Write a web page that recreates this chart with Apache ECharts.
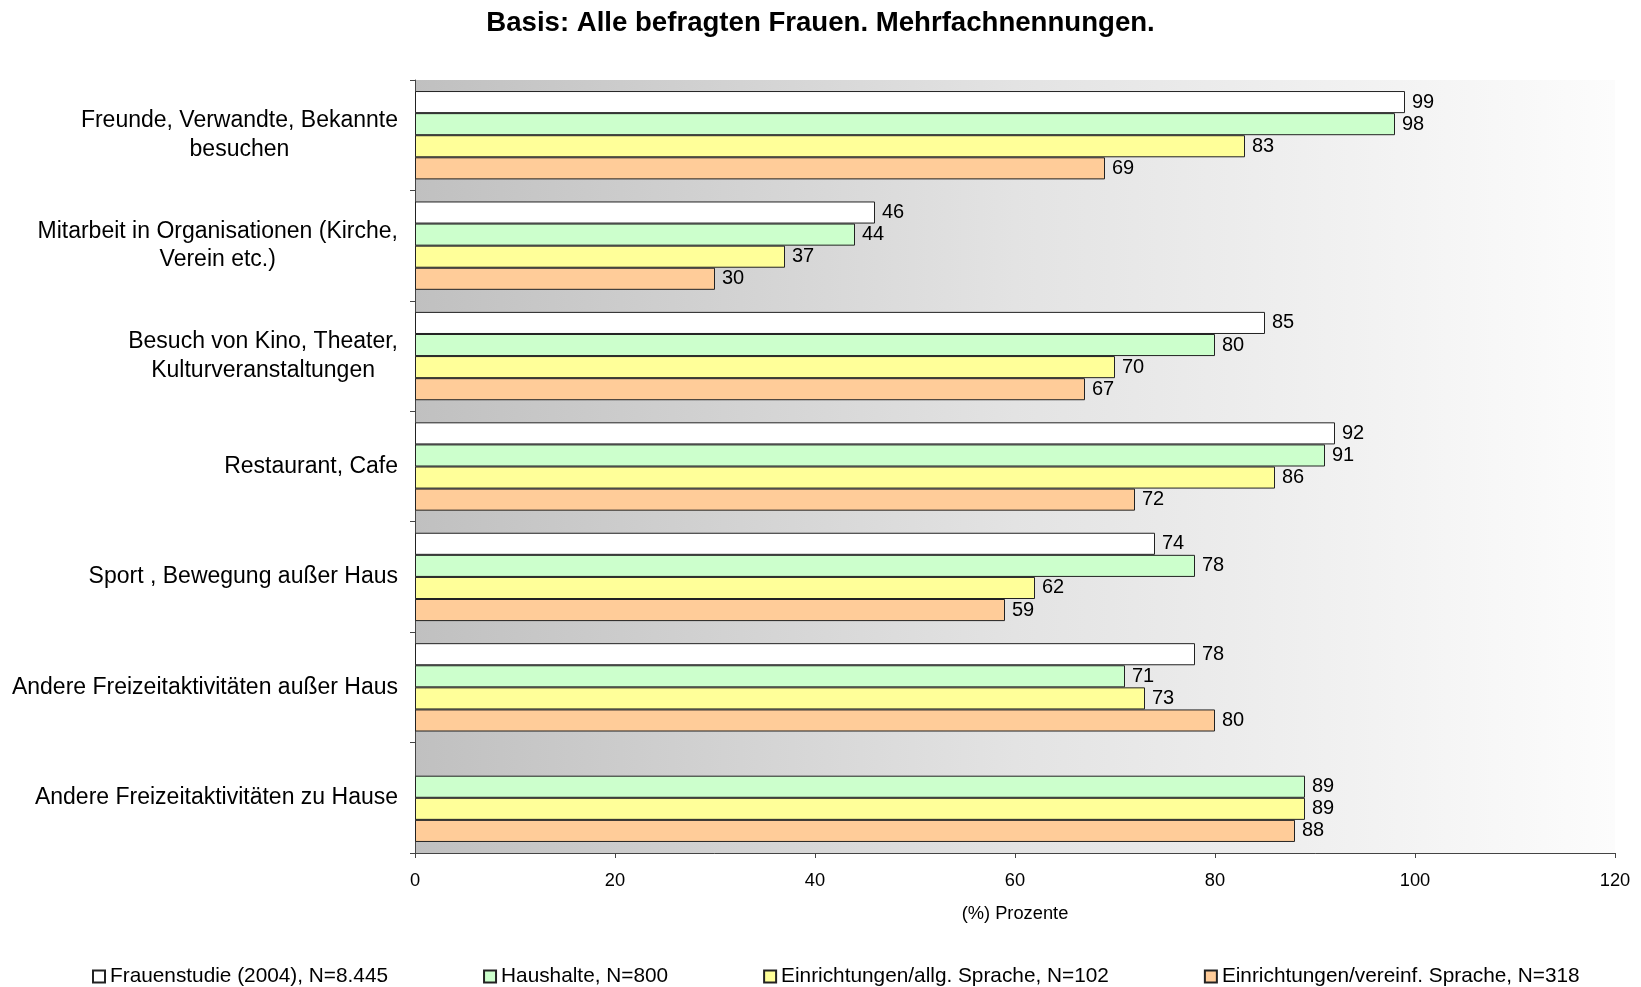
<!DOCTYPE html>
<html>
<head>
<meta charset="utf-8">
<script src="https://cdn.jsdelivr.net/npm/echarts@6/dist/echarts.min.js"></script>
<style>
  html, body { margin: 0; padding: 0; background: #fff; }
  #chart { width: 1641px; height: 987px; }
</style>
</head>
<body>
<div id="chart"></div>
<script>
const categories = [
  'Freunde, Verwandte, Bekannte\nbesuchen',
  'Mitarbeit in Organisationen (Kirche,\nVerein etc.)',
  'Besuch von Kino, Theater,\nKulturveranstaltungen',
  'Restaurant, Cafe',
  'Sport , Bewegung außer Haus',
  'Andere Freizeitaktivitäten außer Haus',
  'Andere Freizeitaktivitäten zu Hause'
];
const seriesNames = [
  'Frauenstudie (2004), N=8.445',
  'Haushalte, N=800',
  'Einrichtungen/allg. Sprache, N=102',
  'Einrichtungen/vereinf. Sprache, N=318'
];
const frauenstudie = [99, 46, 85, 92, 74, 78, null];
const haushalte = [98, 44, 80, 91, 78, 71, 89];
const allgSprache = [83, 37, 70, 86, 62, 73, 89];
const vereinfSprache = [69, 30, 67, 72, 59, 80, 88];
const xTicks = { min: 0, max: 120, interval: 20 };

const colors = ['#ffffff', '#ccffcc', '#ffff99', '#ffcc99'];
const values = [frauenstudie, haushalte, allgSprache, vereinfSprache];
const font = "'Liberation Sans', Arial, sans-serif";

const chart = echarts.init(document.getElementById('chart'));

const series = seriesNames.map((name, i) => ({
  name: name,
  type: 'bar',
  data: values[i],
  barGap: '0%',
  barCategoryGap: '20%',
  itemStyle: { color: colors[i], borderColor: '#222', borderWidth: 1 },
  label: {
    show: true,
    position: 'right',
    distance: 7,
    color: '#000',
    fontSize: 20,
    fontFamily: font
  }
}));

chart.setOption({
  animation: false,
  backgroundColor: '#fff',
  title: {
    text: 'Basis: Alle befragten Frauen. Mehrfachnennungen.',
    left: 'center',
    top: 4,
    textStyle: { fontFamily: font, fontSize: 27.6, fontWeight: 'bold', color: '#000' }
  },
  legend: {
    data: seriesNames,
    left: 87,
    top: 961,
    icon: 'rect',
    itemWidth: 12,
    itemHeight: 12,
    itemGap: 95,
    textStyle: { fontFamily: font, fontSize: 20.8, color: '#000' }
  },
  grid: {
    left: 415,
    right: 26,
    top: 80,
    bottom: 134,
    show: true,
    borderWidth: 0,
    backgroundColor: new echarts.graphic.LinearGradient(0, 0, 1, 0, [
      { offset: 0, color: '#c0c0c0' },
      { offset: 0.5, color: '#e3e3e3' },
      { offset: 1, color: '#fcfcfc' }
    ])
  },
  xAxis: {
    type: 'value',
    min: xTicks.min,
    max: xTicks.max,
    interval: xTicks.interval,
    name: '(%) Prozente',
    nameLocation: 'middle',
    nameGap: 52,
    nameTextStyle: { fontFamily: font, fontSize: 18.3, color: '#000' },
    axisLine: { show: true, lineStyle: { color: '#444', width: 1 } },
    axisTick: { show: true, length: 5, lineStyle: { color: '#444' } },
    axisLabel: { fontFamily: font, fontSize: 18.3, color: '#000', margin: 19 },
    splitLine: { show: false }
  },
  yAxis: {
    type: 'category',
    data: categories,
    inverse: true,
    axisLine: { show: true, lineStyle: { color: '#444', width: 1 } },
    axisTick: { show: true, length: 5, lineStyle: { color: '#444' } },
    axisLabel: {
      margin: 17,
      align: 'right',
      formatter: v => v.split('\n').map(l => '{c|' + l + '}').join('\n'),
      rich: {
        c: { align: 'center', fontFamily: font, fontSize: 23, color: '#000', lineHeight: 28.5 }
      }
    },
    splitLine: { show: false }
  },
  series: series
});
</script>
</body>
</html>
